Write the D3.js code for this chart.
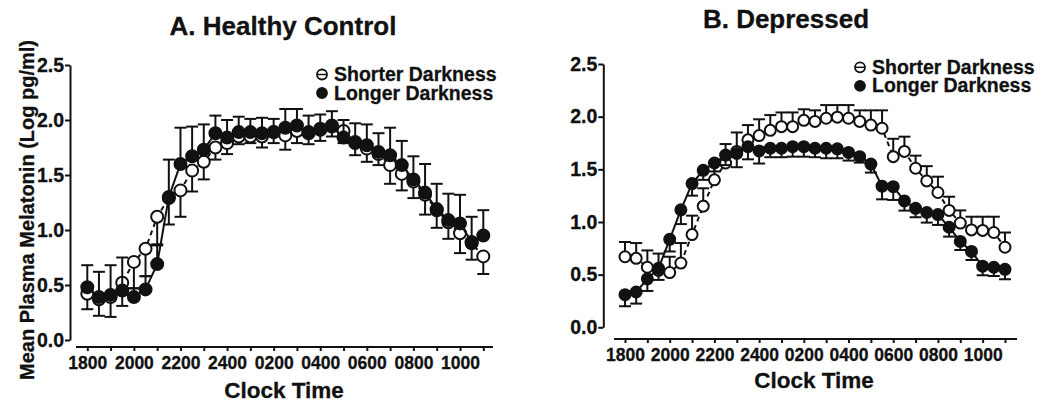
<!DOCTYPE html>
<html>
<head>
<meta charset="utf-8">
<script src="https://cdn.jsdelivr.net/npm/d3@7"></script>
<style>
  body { margin: 0; background: #fff; }
  svg text { font-family: "Liberation Sans", Arial, sans-serif; font-weight: bold; fill: #111; stroke: #111; stroke-width: 0.3px; }
</style>
</head>
<body>
<div id="chart"></div>
<script>
// Sampling times (every 30 min, 1800 -> 1100)
let clockTimes = ["1800","1830","1900","1930","2000","2030","2100","2130","2200","2230",
  "2300","2330","2400","0030","0100","0130","0200","0230","0300","0330",
  "0400","0430","0500","0530","0600","0630","0700","0730","0800","0830",
  "0900","0930","1000","1030","1100"]

// x axis tick labels (every 2 h, minor ticks every hour)
let tickLabels = ["1800","2000","2200","2400","0200","0400","0600","0800","1000"]
let hourTicks = ["1800","1900","2000","2100","2200","2300","2400","0100","0200","0300",
  "0400","0500","0600","0700","0800","0900","1000","1100"]
let yTicks = [0, 0.5, 1.0, 1.5, 2.0, 2.5]

// A. Healthy control
let healthyShorter = [0.42,0.37,0.39,0.52,0.71,0.83,1.12,1.29,1.36,1.54,1.62,1.75,1.79,1.85,1.85,1.85,1.89,1.86,1.90,1.88,
  1.92,1.95,1.90,1.79,1.74,1.69,1.59,1.51,1.44,1.32,1.18,1.07,0.97,0.88,0.76]
let healthyShorterErr = [0.14,0.15,0.18,0.21,0.24,0.25,0.26,0.24,0.24,0.19,0.16,0.11,0.10,0.07,0.06,0.10,0.10,0.13,0.11,0.10,
  0.11,0.10,0.11,0.11,0.12,0.10,0.17,0.15,0.15,0.18,0.16,0.15,0.18,0.15,0.16]
let healthyLonger = [0.48,0.39,0.41,0.45,0.39,0.46,0.69,1.30,1.60,1.67,1.73,1.88,1.84,1.89,1.89,1.88,1.89,1.93,1.95,1.89,
  1.91,1.94,1.84,1.80,1.77,1.71,1.68,1.59,1.46,1.34,1.19,1.09,1.06,0.89,0.95]
let healthyLongerErr = [0.20,0.23,0.27,0.30,0.08,0.12,0.18,0.34,0.33,0.27,0.23,0.16,0.16,0.14,0.12,0.14,0.12,0.17,0.15,0.15,
  0.14,0.14,0.16,0.17,0.19,0.17,0.25,0.22,0.21,0.26,0.23,0.24,0.26,0.23,0.23]

// B. Depressed
let depShorter = [0.67,0.655,0.57,0.54,0.52,0.61,0.88,1.15,1.40,1.56,1.67,1.78,1.82,1.87,1.905,1.905,1.965,1.955,1.985,1.995,
  1.985,1.955,1.92,1.89,1.62,1.67,1.51,1.39,1.28,1.11,0.99,0.925,0.92,0.90,0.76]
let depShorterErr = [0.14,0.145,0.16,0.16,0.15,0.19,0.18,0.17,0.16,0.18,0.18,0.14,0.155,0.145,0.135,0.135,0.105,0.105,0.125,0.115,
  0.125,0.105,0.14,0.17,0.17,0.14,0.12,0.14,0.15,0.13,0.12,0.125,0.13,0.15,0.14]
let depLonger = [0.31,0.335,0.46,0.56,0.835,1.115,1.365,1.49,1.56,1.635,1.65,1.715,1.675,1.70,1.70,1.715,1.715,1.70,1.70,1.695,
  1.66,1.62,1.55,1.34,1.335,1.20,1.13,1.09,1.07,0.95,0.815,0.72,0.58,0.57,0.55]
let depLongerErr = [0.11,0.11,0.115,0.11,0.115,0.135,0.115,0.09,0.08,0.095,0.13,0.12,0.12,0.085,0.085,0.095,0.095,0.085,0.095,0.09,
  0.077,0.056,0.081,0.125,0.126,0.092,0.085,0.096,0.098,0.089,0.081,0.081,0.086,0.083,0.094]

let svg = d3.select("#chart")
  .append("svg")
  .attr("width", 1047)
  .attr("height", 405)

// hours elapsed since 1800
function hoursFrom1800(s) {
  let h = +s.slice(0, 2), m = +s.slice(2)
  return ((h - 18 + 24) % 24) + m / 60
}

function drawPanel(p) {
  let x = d3.scaleLinear().domain([0, 17]).range([p.x0, p.x1])
  let y = d3.scaleLinear().domain([0, 2.5]).range([p.y0, p.y1])
  let g = svg.append("g")

  // y axis
  let yAxis = g.append("g")
    .attr("transform", "translate(" + p.yAxisX + ",0)")
    .call(d3.axisLeft(y).tickValues(yTicks).tickFormat(d3.format(".1f")).tickSize(5).tickSizeOuter(0).tickPadding(1))
  yAxis.selectAll("text").style("font-size", "19.5px")

  // x axis
  let xAxis = g.append("g")
    .attr("transform", "translate(0," + p.xAxisY + ")")
    .call(d3.axisBottom(x)
      .tickValues(hourTicks.map(hoursFrom1800))
      .tickFormat(function(d, i) { return tickLabels.indexOf(hourTicks[i]) >= 0 ? hourTicks[i] : "" })
      .tickSize(4).tickSizeOuter(0).tickPadding(6))
  xAxis.select(".domain").attr("d", "M" + p.xLineStart + ",0H" + p.xLineEnd)
  xAxis.selectAll("text").style("font-size", "17.5px")

  g.selectAll(".domain, .tick line")
    .attr("stroke", "#111")
    .attr("stroke-width", 2)

  // titles
  g.append("text")
    .attr("x", p.titleX).attr("y", p.titleY)
    .attr("text-anchor", "middle")
    .style("font-size", "26px")
    .text(p.title)
  g.append("text")
    .attr("x", p.xTitleX).attr("y", p.xTitleY)
    .attr("text-anchor", "middle")
    .style("font-size", "22.5px")
    .text("Clock Time")

  // series: open first, filled on top
  p.series.forEach(function(s) {
    let pts = clockTimes.map(function(t, i) {
      return {t: hoursFrom1800(t), v: s.values[i], e: s.err[i]}
    })
    let line = d3.line().x(function(d) { return x(d.t) }).y(function(d) { return y(d.v) })

    g.append("path")
      .datum(pts)
      .attr("d", line)
      .attr("fill", "none")
      .attr("stroke", "#111")
      .attr("stroke-width", 2)
      .attr("stroke-dasharray", s.open ? "5,4" : null)

    let bars = g.append("g").selectAll("g")
      .data(pts)
      .enter()
      .append("g")
      .attr("stroke", "#111")
      .attr("stroke-width", 2)
    bars.append("line")
      .attr("x1", function(d) { return x(d.t) })
      .attr("x2", function(d) { return x(d.t) })
      .attr("y1", function(d) { return y(d.v) })
      .attr("y2", function(d) { return y(d.v + s.dir * d.e) })
    bars.append("line")
      .attr("x1", function(d) { return x(d.t) - p.cap })
      .attr("x2", function(d) { return x(d.t) + p.cap })
      .attr("y1", function(d) { return y(d.v + s.dir * d.e) })
      .attr("y2", function(d) { return y(d.v + s.dir * d.e) })

    g.append("g").selectAll("circle")
      .data(pts)
      .enter()
      .append("circle")
      .attr("cx", function(d) { return x(d.t) })
      .attr("cy", function(d) { return y(d.v) })
      .attr("r", p.r)
      .attr("fill", s.open ? "#fff" : "#111")
      .attr("stroke", "#111")
      .attr("stroke-width", 2)
  })

  // legend
  let names = ["Shorter Darkness", "Longer Darkness"]
  names.forEach(function(n, i) {
    let ly = p.legY + i * 18.5
    g.append("line")
      .attr("x1", p.legX - 4).attr("x2", p.legX + 4)
      .attr("y1", ly).attr("y2", ly)
      .attr("stroke", "#111").attr("stroke-width", 1.5)
    g.append("circle")
      .attr("cx", p.legX).attr("cy", ly).attr("r", 5)
      .attr("fill", i == 0 ? "none" : "#111")
      .attr("stroke", "#111").attr("stroke-width", 1.8)
    g.append("text")
      .attr("x", p.legX + 12).attr("y", ly + 6.5)
      .style("font-size", "19.5px")
      .text(n)
  })
}

drawPanel({
  title: "A. Healthy Control", titleX: 283, titleY: 35,
  x0: 87.3, x1: 483.3, y0: 340, y1: 65,
  yAxisX: 70, xAxisY: 347, xLineStart: 76, xLineEnd: 493,
  xTitleX: 284, xTitleY: 398,
  legX: 322, legY: 74.5, r: 6, cap: 6,
  series: [
    {values: healthyShorter, err: healthyShorterErr, open: true, dir: -1},
    {values: healthyLonger, err: healthyLongerErr, open: false, dir: 1}
  ]
})

drawPanel({
  title: "B. Depressed", titleX: 786, titleY: 28,
  x0: 625, x1: 1005, y0: 327.3, y1: 64,
  yAxisX: 603.3, xAxisY: 339, xLineStart: 614, xLineEnd: 1017,
  xTitleX: 814, xTitleY: 388,
  legX: 860, legY: 67.3, r: 5.5, cap: 6,
  series: [
    {values: depShorter, err: depShorterErr, open: true, dir: 1},
    {values: depLonger, err: depLongerErr, open: false, dir: -1}
  ]
})

// y axis title (panel A only)
svg.append("text")
  .attr("transform", "translate(34,210) rotate(-90)")
  .attr("text-anchor", "middle")
  .style("font-size", "20px")
  .text("Mean Plasma Melatonin (Log pg/ml)")
</script>
</body>
</html>
